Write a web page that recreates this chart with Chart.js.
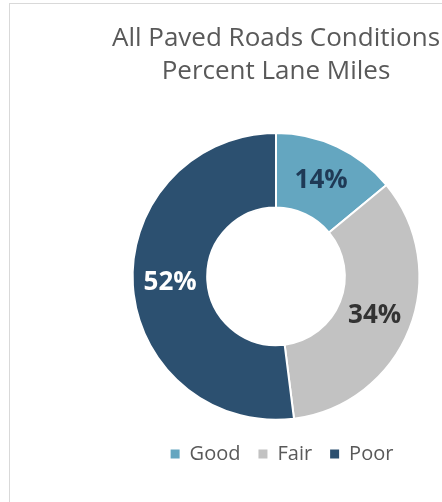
<!DOCTYPE html>
<html lang="en">
<head>
    <meta charset="UTF-8">
    <title>All Paved Roads Conditions</title>
    <script src="https://cdnjs.cloudflare.com/ajax/libs/Chart.js/4.4.1/chart.umd.min.js"></script>
    <style>
        html, body {
            margin: 0;
            padding: 0;
            width: 442px;
            height: 502px;
            overflow: hidden;
            background: #fff;
        }
        .frame {
            position: absolute;
            left: 9px;
            top: 3px;
            width: 520px;
            height: 600px;
            border: 1px solid #d9d9d9;
        }
        .chart-box {
            position: absolute;
            left: 76px;
            top: 0;
            width: 400px;
            height: 502px;
        }
    </style>
</head>
<body>
    <div class="frame"></div>
    <div class="chart-box">
        <canvas id="roadChart"></canvas>
    </div>

    <script>
        const categories = ['Good', 'Fair', 'Poor'];
        const percentLaneMiles = [14, 34, 52];
        const sliceColors = ['#64a6c0', '#c2c2c2', '#2c5070'];
        const labelColors = ['#1f3a56', '#333333', '#ffffff'];

        // percentage text in the middle of each ring slice
        const sliceLabels = {
            id: 'sliceLabels',
            afterDatasetsDraw(chart) {
                const ctx = chart.ctx;
                const meta = chart.getDatasetMeta(0);
                ctx.save();
                ctx.font = 'bold 26px "Open Sans", sans-serif';
                ctx.textAlign = 'center';
                ctx.textBaseline = 'middle';
                meta.data.forEach((arc, i) => {
                    const pos = arc.tooltipPosition();
                    ctx.fillStyle = labelColors[i];
                    ctx.fillText(percentLaneMiles[i] + '%', pos.x, pos.y);
                });
                ctx.restore();
            }
        };

        // the legend sits a little right of the ring centre in the original
        const nudgeLegend = {
            id: 'nudgeLegend',
            afterLayout(chart) {
                chart.legend.left += 6;
                chart.legend.right += 6;
            }
        };

        const ctx = document.getElementById('roadChart').getContext('2d');
        new Chart(ctx, {
            type: 'doughnut',
            data: {
                labels: categories,
                datasets: [{
                    data: percentLaneMiles,
                    backgroundColor: sliceColors,
                    borderColor: '#ffffff',
                    borderWidth: 2
                }]
            },
            options: {
                responsive: true,
                maintainAspectRatio: false,
                animation: false,
                cutout: '48%',
                layout: {
                    padding: { left: 0, right: 0, top: 0, bottom: 28 }
                },
                plugins: {
                    title: {
                        display: true,
                        text: ['All Paved Roads Conditions', 'Percent Lane Miles'],
                        color: '#595959',
                        font: { family: '"Open Sans", sans-serif', size: 26, weight: 'normal', lineHeight: 1.27 },
                        padding: { top: 22, bottom: 44 }
                    },
                    legend: {
                        position: 'bottom',
                        // empty legend title, only used as a small spacer above the items
                        title: {
                            display: true,
                            text: '',
                            font: { size: 1 },
                            padding: { top: 4, bottom: 0 }
                        },
                        labels: {
                            color: '#595959',
                            font: { family: '"Open Sans", sans-serif', size: 20 },
                            boxWidth: 9,
                            boxHeight: 9,
                            padding: 18,
                            generateLabels(chart) {
                                return categories.map((name, i) => ({
                                    text: name,
                                    fillStyle: sliceColors[i],
                                    strokeStyle: sliceColors[i],
                                    lineWidth: 0,
                                    fontColor: '#595959',
                                    index: i
                                }));
                            }
                        }
                    },
                    tooltip: { enabled: false }
                }
            },
            plugins: [sliceLabels, nudgeLegend]
        });
    </script>
</body>
</html>
